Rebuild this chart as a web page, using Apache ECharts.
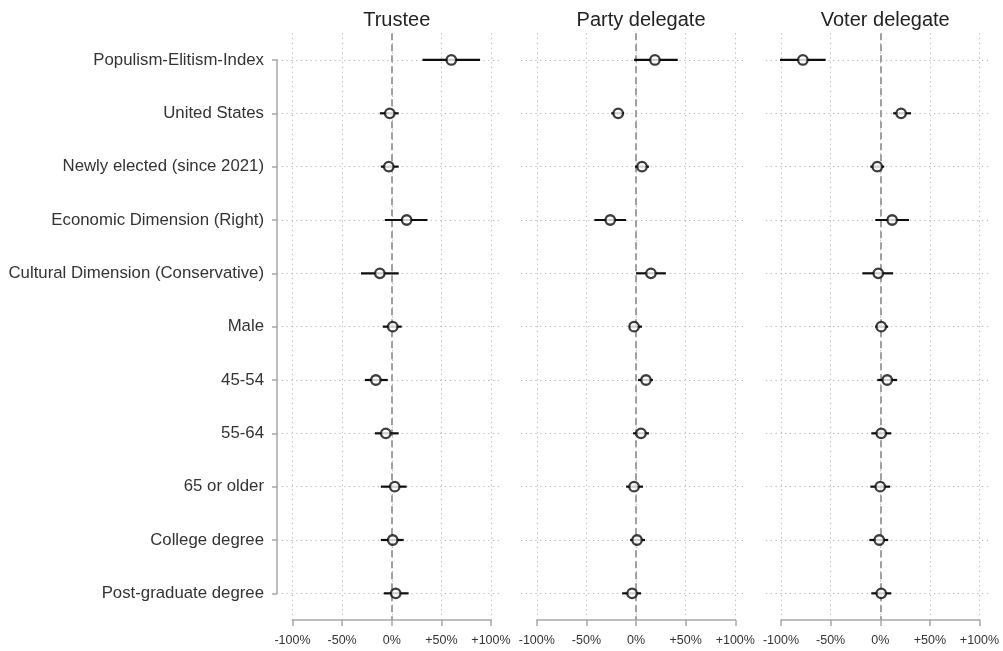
<!DOCTYPE html>
<html>
<head>
<meta charset="utf-8">
<title>Role orientation coefficients</title>
<script src="https://cdn.jsdelivr.net/npm/echarts@6/dist/echarts.min.js"></script>
<style>
  html, body { margin: 0; padding: 0; background: #ffffff; }
  #chart { width: 1003px; height: 651px; }
</style>
</head>
<body>
<div id="chart"></div>
<script>
// Predictors, listed top to bottom
const categories = [
  'Populism-Elitism-Index',
  'United States',
  'Newly elected (since 2021)',
  'Economic Dimension (Right)',
  'Cultural Dimension (Conservative)',
  'Male',
  '45-54',
  '55-64',
  '65 or older',
  'College degree',
  'Post-graduate degree'
];

const panelTitles = ['Trustee', 'Party delegate', 'Voter delegate'];
const xTickLabels = ['-100%', '-50%', '0%', '+50%', '+100%'];

// Trustee: estimate and confidence interval (percentage points)
const trusteeEst = [60, -2, -3, 15, -12, 1, -16, -6, 3, 1, 4];
const trusteeLo  = [31, -12, -11, -7, -31, -9, -27, -17, -11, -11, -8];
const trusteeHi  = [89, 7, 7, 36, 7, 10, -4, 7, 15, 12, 17];

// Party delegate
const partyEst = [19, -18, 6, -26, 15, -2, 10, 5, -2, 1, -4];
const partyLo  = [-2, -25, -1, -42, 0, -7, 2, -3, -10, -6, -14];
const partyHi  = [42, -12, 13, -10, 30, 6, 17, 13, 7, 9, 5];

// Voter delegate
const voterEst = [-78, 21, -3, 12, -2, 1, 7, 1, 0, -1, 1];
const voterLo  = [-101, 13, -10, -5, -18, -5, -3, -9, -10, -11, -9];
const voterHi  = [-55, 31, 4, 29, 13, 8, 17, 11, 10, 8, 11];

const panels = [
  { est: trusteeEst, lo: trusteeLo, hi: trusteeHi },
  { est: partyEst,   lo: partyLo,   hi: partyHi },
  { est: voterEst,   lo: voterLo,   hi: voterHi }
];

const FONT = '"Liberation Sans", Arial, sans-serif';
const AXIS_GREY = '#a8a8a8';
const GRID_GREY = '#b4b4b4';
const INK = '#0d0d0d';
const DOTS = [1.2, 3.6];

// layout of each panel: x span of the -100..+100 scale and of the row guides
const plotLeft = [292.5, 536.8, 781];
const plotWidth = 198.5;
const guideLeft = [277, 521, 766];
const guideWidth = 225;

const grids = [];
const xAxes = [];
const yAxes = [];
const series = [];
const titles = [];

// data grids (0..2): value scale, vertical guides, zero line, marks
panels.forEach((p, i) => {
  grids.push({ left: plotLeft[i], width: plotWidth, top: 33.3, height: 586.7 });
  xAxes.push({
    type: 'value', gridIndex: i, min: -100, max: 100, interval: 50,
    axisLine: { show: true, onZero: false, lineStyle: { color: AXIS_GREY, width: 1.5 } },
    axisTick: { show: true, length: 6, lineStyle: { color: AXIS_GREY, width: 1.5 } },
    axisLabel: {
      color: '#333', fontSize: 12.5, fontFamily: FONT, margin: 14,
      formatter: (v, idx) => xTickLabels[idx]
    },
    splitLine: { show: true, lineStyle: { color: GRID_GREY, type: DOTS, width: 1 } }
  });
  yAxes.push({
    type: 'category', gridIndex: i, data: categories, inverse: true, boundaryGap: true,
    axisLine: { show: false }, axisTick: { show: false }, axisLabel: { show: false },
    splitLine: { show: false }
  });
});

// row guide grids (3..5): horizontal dotted lines and category labels
panels.forEach((p, i) => {
  const g = 3 + i;
  const first = i === 0;
  grids.push({ left: guideLeft[i], width: guideWidth, top: 60, height: 533.3 });
  xAxes.push({ type: 'value', gridIndex: g, min: -100, max: 100, show: false });
  yAxes.push({
    type: 'category', gridIndex: g, data: categories, inverse: true, boundaryGap: false,
    axisLine: { show: first, onZero: false, lineStyle: { color: AXIS_GREY, width: 1.5 } },
    axisTick: { show: first, length: 5, lineStyle: { color: AXIS_GREY, width: 1.5 } },
    axisLabel: { show: first, color: '#333', fontSize: 16.8, fontFamily: FONT, margin: 13 },
    splitLine: { show: true, lineStyle: { color: GRID_GREY, type: DOTS, width: 1 } }
  });
});

panels.forEach((p, i) => {
  titles.push({
    text: panelTitles[i], left: plotLeft[i] + plotWidth / 2, top: 5, textAlign: 'center',
    textStyle: { fontFamily: FONT, fontSize: 20, fontWeight: 'normal', color: '#222' }
  });

  // confidence intervals
  series.push({
    type: 'custom', xAxisIndex: i, yAxisIndex: i, z: 3,
    data: categories.map((c, k) => [p.lo[k], p.hi[k], k]),
    encode: { x: [0, 1], y: 2 },
    renderItem: (params, api) => {
      const a = api.coord([api.value(0), api.value(2)]);
      const b = api.coord([api.value(1), api.value(2)]);
      return {
        type: 'line',
        shape: { x1: a[0], y1: a[1], x2: b[0], y2: b[1] },
        style: { stroke: INK, lineWidth: 2.2 }
      };
    },
    silent: true
  });

  // point estimates, with the zero reference line
  series.push({
    type: 'scatter', xAxisIndex: i, yAxisIndex: i, z: 4,
    data: categories.map((c, k) => [p.est[k], k]),
    symbol: 'circle', symbolSize: 9.5,
    itemStyle: { color: '#ffffff', borderColor: INK, borderWidth: 2.3 },
    silent: true,
    markLine: {
      silent: true, symbol: 'none', label: { show: false }, z: 2,
      lineStyle: { color: '#a0a0a0', type: [7, 4], width: 2 },
      data: [{ xAxis: 0 }]
    }
  });
});

const chart = echarts.init(document.getElementById('chart'), null, { renderer: 'canvas' });
chart.setOption({
  backgroundColor: '#ffffff',
  animation: false,
  title: titles,
  grid: grids,
  xAxis: xAxes,
  yAxis: yAxes,
  series: series
});
</script>
</body>
</html>
